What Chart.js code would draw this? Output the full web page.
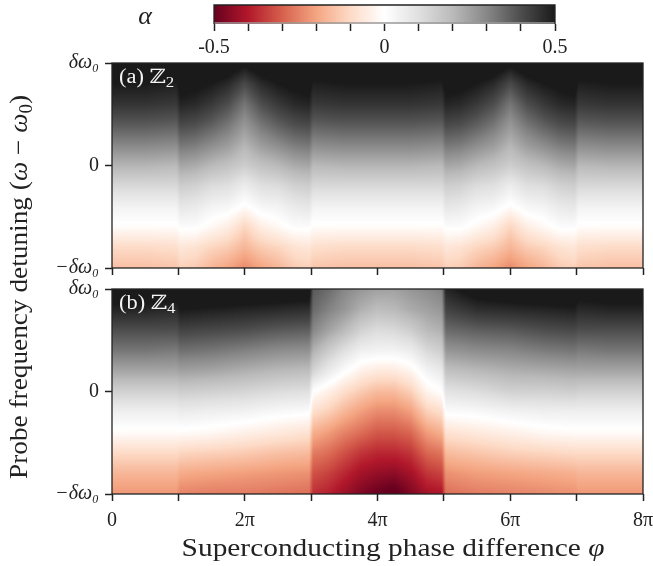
<!DOCTYPE html>
<html>
<head>
<meta charset="utf-8">
<script src="https://cdn.jsdelivr.net/npm/chart.js@4.4.0/dist/chart.umd.min.js"></script>
<style>
html, body { margin: 0; padding: 0; background: #fff; }
#wrap { position: relative; width: 653px; height: 566px; }
#wrap canvas { position: absolute; left: 0; top: 0; }
</style>
</head>
<body>
<div id="wrap">
	<canvas id="cbar" width="653" height="566"></canvas>
	<canvas id="panelA" width="653" height="566"></canvas>
	<canvas id="panelB" width="653" height="566"></canvas>
</div>
<script>
// values: columns are phi (in units of pi), each column lists alpha
// from omega = +dw0 (top) down to -dw0 (bottom)
var omegaRows = [1, 0.8, 0.6, 0.4, 0.2, 0, -0.2, -0.4, -0.6, -0.8, -1];

var phiZ2 = [0, 0.5, 0.97, 1.03, 1.25, 1.5, 1.75, 2, 2.25, 2.5, 2.75, 2.97, 3.03, 3.5, 4,
	4.5, 4.97, 5.03, 5.25, 5.5, 5.75, 6, 6.25, 6.5, 6.75, 6.97, 7.03, 7.5, 8];
var alphaZ2 = [
	[0.58, 0.50, 0.45, 0.38, 0.30, 0.21, 0.12, 0.04, -0.01, -0.10, -0.15],
	[0.58, 0.50, 0.45, 0.38, 0.30, 0.21, 0.12, 0.04, -0.01, -0.10, -0.15],
	[0.57, 0.49, 0.44, 0.37, 0.29, 0.20, 0.12, 0.04, -0.01, -0.09, -0.14],
	[0.62, 0.53, 0.48, 0.41, 0.33, 0.24, 0.15, 0.08, 0.01, -0.07, -0.12],
	[0.61, 0.52, 0.47, 0.40, 0.32, 0.23, 0.14, 0.07, 0.01, -0.08, -0.13],
	[0.58, 0.50, 0.44, 0.37, 0.29, 0.20, 0.11, 0.04, -0.02, -0.11, -0.17],
	[0.56, 0.47, 0.40, 0.33, 0.26, 0.18, 0.10, 0.03, -0.05, -0.13, -0.20],
	[0.52, 0.41, 0.33, 0.27, 0.21, 0.15, 0.06, -0.01, -0.11, -0.17, -0.24],
	[0.56, 0.47, 0.40, 0.33, 0.26, 0.18, 0.10, 0.03, -0.05, -0.13, -0.20],
	[0.58, 0.50, 0.44, 0.37, 0.29, 0.20, 0.11, 0.04, -0.02, -0.11, -0.17],
	[0.61, 0.52, 0.47, 0.40, 0.32, 0.23, 0.14, 0.07, 0.01, -0.08, -0.13],
	[0.62, 0.53, 0.48, 0.41, 0.33, 0.24, 0.15, 0.08, 0.01, -0.07, -0.12],
	[0.57, 0.49, 0.44, 0.37, 0.29, 0.20, 0.12, 0.04, -0.01, -0.09, -0.14],
	[0.58, 0.50, 0.45, 0.38, 0.30, 0.21, 0.12, 0.04, -0.01, -0.10, -0.15],
	[0.58, 0.50, 0.45, 0.38, 0.30, 0.21, 0.12, 0.04, -0.01, -0.10, -0.15],
	[0.58, 0.50, 0.45, 0.38, 0.30, 0.21, 0.12, 0.04, -0.01, -0.10, -0.15],
	[0.57, 0.49, 0.44, 0.37, 0.29, 0.20, 0.12, 0.04, -0.01, -0.09, -0.14],
	[0.62, 0.53, 0.48, 0.41, 0.33, 0.24, 0.15, 0.08, 0.01, -0.07, -0.12],
	[0.61, 0.52, 0.47, 0.40, 0.32, 0.23, 0.14, 0.07, 0.01, -0.08, -0.13],
	[0.58, 0.50, 0.44, 0.37, 0.29, 0.20, 0.11, 0.04, -0.02, -0.11, -0.17],
	[0.56, 0.47, 0.40, 0.33, 0.26, 0.18, 0.10, 0.03, -0.05, -0.13, -0.20],
	[0.52, 0.41, 0.33, 0.27, 0.21, 0.15, 0.06, -0.01, -0.11, -0.17, -0.24],
	[0.56, 0.47, 0.40, 0.33, 0.26, 0.18, 0.10, 0.03, -0.05, -0.13, -0.20],
	[0.58, 0.50, 0.44, 0.37, 0.29, 0.20, 0.11, 0.04, -0.02, -0.11, -0.17],
	[0.61, 0.52, 0.47, 0.40, 0.32, 0.23, 0.14, 0.07, 0.01, -0.08, -0.13],
	[0.62, 0.53, 0.48, 0.41, 0.33, 0.24, 0.15, 0.08, 0.01, -0.07, -0.12],
	[0.57, 0.49, 0.44, 0.37, 0.29, 0.20, 0.12, 0.04, -0.01, -0.09, -0.14],
	[0.58, 0.50, 0.45, 0.38, 0.30, 0.21, 0.12, 0.04, -0.01, -0.10, -0.15],
	[0.58, 0.50, 0.45, 0.38, 0.30, 0.21, 0.12, 0.04, -0.01, -0.10, -0.15]
];

var phiZ4 = [0, 0.5, 0.97, 1.03, 1.5, 2, 2.5, 2.97, 3.03, 3.25, 3.5, 3.75, 4, 4.25, 4.5,
	4.75, 4.97, 5.03, 5.5, 6, 6.5, 6.97, 7.03, 7.5, 8];
var alphaZ4 = [
	[0.55, 0.48, 0.40, 0.33, 0.24, 0.14, 0.05, -0.01, -0.10, -0.17, -0.22],
	[0.55, 0.48, 0.40, 0.33, 0.24, 0.14, 0.05, -0.01, -0.10, -0.17, -0.22],
	[0.54, 0.47, 0.40, 0.32, 0.24, 0.14, 0.05, -0.01, -0.10, -0.17, -0.22],
	[0.58, 0.50, 0.42, 0.34, 0.25, 0.15, 0.06, -0.01, -0.11, -0.19, -0.25],
	[0.58, 0.49, 0.41, 0.33, 0.24, 0.14, 0.05, -0.02, -0.12, -0.20, -0.26],
	[0.57, 0.48, 0.40, 0.31, 0.22, 0.13, 0.04, -0.04, -0.13, -0.21, -0.26],
	[0.56, 0.47, 0.38, 0.29, 0.20, 0.11, 0.02, -0.06, -0.15, -0.22, -0.27],
	[0.55, 0.46, 0.37, 0.28, 0.19, 0.10, 0.01, -0.08, -0.16, -0.23, -0.28],
	[0.38, 0.35, 0.30, 0.22, 0.13, 0.00, -0.09, -0.18, -0.26, -0.32, -0.37],
	[0.35, 0.31, 0.25, 0.16, 0.07, -0.04, -0.12, -0.21, -0.28, -0.34, -0.39],
	[0.30, 0.27, 0.20, 0.10, 0.01, -0.09, -0.17, -0.25, -0.32, -0.38, -0.43],
	[0.27, 0.22, 0.14, 0.05, -0.04, -0.13, -0.21, -0.28, -0.36, -0.42, -0.47],
	[0.25, 0.19, 0.11, 0.04, -0.06, -0.16, -0.24, -0.31, -0.38, -0.44, -0.50],
	[0.25, 0.20, 0.12, 0.04, -0.06, -0.16, -0.24, -0.31, -0.38, -0.45, -0.52],
	[0.27, 0.23, 0.15, 0.06, -0.03, -0.12, -0.21, -0.29, -0.36, -0.42, -0.47],
	[0.29, 0.25, 0.20, 0.12, 0.04, -0.03, -0.12, -0.21, -0.29, -0.36, -0.42],
	[0.31, 0.27, 0.22, 0.15, 0.07, 0.00, -0.09, -0.18, -0.27, -0.34, -0.41],
	[0.48, 0.42, 0.35, 0.27, 0.18, 0.09, 0.01, -0.08, -0.16, -0.23, -0.28],
	[0.54, 0.46, 0.37, 0.29, 0.20, 0.11, 0.02, -0.06, -0.14, -0.21, -0.26],
	[0.56, 0.47, 0.38, 0.30, 0.22, 0.14, 0.04, -0.04, -0.12, -0.20, -0.25],
	[0.57, 0.48, 0.40, 0.32, 0.23, 0.14, 0.05, -0.02, -0.11, -0.19, -0.24],
	[0.58, 0.49, 0.41, 0.33, 0.24, 0.15, 0.05, -0.01, -0.10, -0.18, -0.23],
	[0.54, 0.47, 0.40, 0.32, 0.24, 0.14, 0.05, -0.01, -0.10, -0.17, -0.22],
	[0.55, 0.48, 0.40, 0.33, 0.24, 0.14, 0.05, -0.01, -0.10, -0.17, -0.22],
	[0.55, 0.48, 0.40, 0.33, 0.24, 0.14, 0.05, -0.01, -0.10, -0.17, -0.22]
];

// tick labels
var phiTickLabels = ['0', '', '2π', '', '4π', '', '6π', '', '8π'];
var omegaTickLabels = { '1': 'δω₀', '0': '0', '-1': '−δω₀' };
var alphaTickLabels = { '-0.5': '-0.5', '0': '0', '0.5': '0.5' };
var alphaMin = -0.5, alphaMax = 0.5;

// RdGy colour map (matplotlib)
var rdgy = [[103, 0, 31], [178, 24, 43], [214, 96, 77], [244, 165, 130], [253, 219, 199],
	[255, 255, 255], [224, 224, 224], [186, 186, 186], [135, 135, 135], [77, 77, 77], [26, 26, 26]];

var SERIF = "'Liberation Serif', 'DejaVu Serif', serif";
var INK = '#222222';

function alphaColor(v) {
	var t = (v - alphaMin) / (alphaMax - alphaMin);
	t = Math.max(0, Math.min(1, t)) * (rdgy.length - 1);
	var i = Math.min(rdgy.length - 2, Math.floor(t));
	var f = t - i;
	var a = rdgy[i], b = rdgy[i + 1];
	return [a[0] + (b[0] - a[0]) * f, a[1] + (b[1] - a[1]) * f, a[2] + (b[2] - a[2]) * f];
}

function gridPoints(phis, cols) {
	var pts = [];
	for (var i = 0; i < phis.length; i++) {
		for (var j = 0; j < omegaRows.length; j++) {
			pts.push({ x: phis[i], y: omegaRows[j], v: cols[i][j] });
		}
	}
	return pts;
}

// writes a run of differently styled pieces; sx stretches the run horizontally
function drawRich(ctx, parts, x, y, align, sx) {
	sx = sx || 1;
	var total = 0;
	parts.forEach(function(p) {
		ctx.font = p.font;
		p.w = ctx.measureText(p.text).width;
		total += p.w;
	});
	ctx.save();
	ctx.translate(x, y);
	ctx.scale(sx, 1);
	var cx = align === 'center' ? -total / 2 : 0;
	parts.forEach(function(p) {
		ctx.font = p.font;
		ctx.fillText(p.text, cx, p.dy || 0);
		cx += p.w;
	});
	ctx.restore();
}

// paints the alpha map in the chart area, pixel by pixel, through the chart's scales
function makeHeatmap(phis, cols) {
	return {
		id: 'heatmap',
		beforeDatasetsDraw: function(chart) {
			var a = chart.chartArea, xs = chart.scales.x, ys = chart.scales.y;
			var x0 = Math.round(a.left), y0 = Math.round(a.top);
			var w = Math.round(a.right) - x0, h = Math.round(a.bottom) - y0;
			var nr = omegaRows.length;
			var colI = [], colF = [];
			for (var px = 0; px < w; px++) {
				var phi = xs.getValueForPixel(x0 + px + 0.5);
				var i = 0;
				while (i < phis.length - 2 && phi > phis[i + 1]) i++;
				colI.push(i);
				colF.push(Math.max(0, Math.min(1, (phi - phis[i]) / (phis[i + 1] - phis[i]))));
			}
			var off = document.createElement('canvas');
			off.width = w; off.height = h;
			var octx = off.getContext('2d');
			var img = octx.createImageData(w, h);
			for (var py = 0; py < h; py++) {
				var om = ys.getValueForPixel(y0 + py + 0.5);
				var r = (omegaRows[0] - om) / (omegaRows[0] - omegaRows[nr - 1]) * (nr - 1);
				r = Math.max(0, Math.min(nr - 1, r));
				var j = Math.min(nr - 2, Math.floor(r)), fy = r - j;
				for (var qx = 0; qx < w; qx++) {
					var ci = colI[qx], fx = colF[qx];
					var va = cols[ci][j] * (1 - fy) + cols[ci][j + 1] * fy;
					var vb = cols[ci + 1][j] * (1 - fy) + cols[ci + 1][j + 1] * fy;
					var c = alphaColor(va * (1 - fx) + vb * fx);
					var k = (py * w + qx) * 4;
					img.data[k] = c[0]; img.data[k + 1] = c[1]; img.data[k + 2] = c[2]; img.data[k + 3] = 255;
				}
			}
			octx.putImageData(img, 0, 0);
			chart.ctx.drawImage(off, x0, y0);
		}
	};
}

function panelFrame(tag, sub) {
	return {
		id: 'panelFrame',
		afterDraw: function(chart) {
			var a = chart.chartArea, ctx = chart.ctx;
			ctx.save();
			ctx.strokeStyle = INK;
			ctx.lineWidth = 1.3;
			ctx.strokeRect(a.left, a.top, a.right - a.left, a.bottom - a.top);
			ctx.fillStyle = '#f4f4f4';
			ctx.textBaseline = 'alphabetic';
			drawRich(ctx, [
				{ text: tag + ' ', font: '20px ' + SERIF },
				{ text: 'ℤ', font: '20px ' + SERIF },
				{ text: sub, font: '15px ' + SERIF, dy: 4 }
			], a.left + 7, a.top + 20, 'left', 1.12);
			ctx.restore();
		}
	};
}

var axisTitles = {
	id: 'axisTitles',
	afterDraw: function(chart) {
		var ctx = chart.ctx;
		ctx.save();
		ctx.fillStyle = INK;
		ctx.textBaseline = 'alphabetic';
		drawRich(ctx, [
			{ text: 'Superconducting phase difference ', font: '26px ' + SERIF },
			{ text: 'φ', font: 'italic 26px ' + SERIF }
		], 393, 556, 'center', 1.13);
		ctx.translate(27, 287);
		ctx.rotate(-Math.PI / 2);
		drawRich(ctx, [
			{ text: 'Probe frequency detuning (', font: '26px ' + SERIF },
			{ text: 'ω', font: 'italic 26px ' + SERIF },
			{ text: ' − ', font: '26px ' + SERIF },
			{ text: 'ω', font: 'italic 26px ' + SERIF },
			{ text: '0', font: '18px ' + SERIF, dy: 5 },
			{ text: ')', font: '26px ' + SERIF }
		], 0, 0, 'center', 1.05);
		ctx.restore();
	}
};

function panelOptions(top, axisHeight, showLabels) {
	return {
		responsive: false,
		animation: false,
		devicePixelRatio: 1,
		layout: { autoPadding: false, padding: { top: top, right: 10, left: 0, bottom: 0 } },
		plugins: { legend: { display: false }, tooltip: { enabled: false } },
		elements: { point: { radius: 0, hoverRadius: 0 } },
		scales: {
			x: {
				type: 'linear', min: 0, max: 8,
				afterFit: function(s) { s.height = axisHeight; s.paddingLeft = 0; s.paddingRight = 0; },
				border: { display: false },
				grid: { drawOnChartArea: false, drawTicks: true, tickLength: 7, tickColor: INK, tickWidth: 1.5 },
				ticks: {
					display: showLabels, stepSize: 1, padding: 8, color: INK, maxRotation: 0,
					font: { family: SERIF, size: 20 },
					callback: function(v) { return phiTickLabels[Math.round(v)]; }
				}
			},
			y: {
				type: 'linear', min: -1, max: 1,
				afterFit: function(s) { s.width = 112; s.paddingTop = 0; s.paddingBottom = 0; },
				border: { display: false },
				grid: { drawOnChartArea: false, drawTicks: true, tickLength: 7, tickColor: INK, tickWidth: 1.5 },
				ticks: {
					stepSize: 1, padding: 6, color: INK,
					font: function(c) {
						var v = c.tick ? c.tick.value : 0;
						return { family: SERIF, size: 20, style: v === 0 ? 'normal' : 'italic' };
					},
					callback: function(v) { return omegaTickLabels[String(v)]; }
				}
			}
		}
	};
}

// colour bar
var colorbarFill = {
	id: 'colorbarFill',
	beforeDatasetsDraw: function(chart) {
		var a = chart.chartArea, xs = chart.scales.x, ctx = chart.ctx;
		ctx.save();
		for (var px = Math.round(a.left); px < Math.round(a.right); px++) {
			var c = alphaColor(xs.getValueForPixel(px + 0.5));
			ctx.fillStyle = 'rgb(' + Math.round(c[0]) + ',' + Math.round(c[1]) + ',' + Math.round(c[2]) + ')';
			ctx.fillRect(px, a.top, 1, a.bottom - a.top);
		}
		ctx.strokeStyle = '#9a9a9a';
		ctx.lineWidth = 1.5;
		ctx.beginPath();
		ctx.moveTo(a.left, a.bottom - 1);
		ctx.lineTo(a.right, a.bottom - 1);
		ctx.stroke();
		ctx.strokeStyle = INK;
		ctx.lineWidth = 1.3;
		ctx.beginPath();
		ctx.moveTo(a.left, a.bottom);
		ctx.lineTo(a.left, a.top);
		ctx.lineTo(a.right, a.top);
		ctx.lineTo(a.right, a.bottom);
		ctx.stroke();
		ctx.fillStyle = INK;
		ctx.textAlign = 'center';
		ctx.textBaseline = 'middle';
		ctx.font = 'italic 26px ' + SERIF;
		ctx.fillText('α', 145, 17);
		ctx.restore();
	}
};

new Chart(document.getElementById('cbar'), {
	type: 'scatter',
	data: { datasets: [{ data: [] }] },
	options: {
		responsive: false,
		animation: false,
		devicePixelRatio: 1,
		layout: { autoPadding: false, padding: { top: 5, left: 214, right: 98, bottom: 0 } },
		plugins: { legend: { display: false }, tooltip: { enabled: false } },
		scales: {
			x: {
				type: 'linear', min: alphaMin, max: alphaMax,
				afterFit: function(s) { s.height = 566 - 24; s.paddingLeft = 0; s.paddingRight = 0; },
				border: { display: false },
				grid: { drawOnChartArea: false, drawTicks: true, tickLength: 7, tickColor: INK, tickWidth: 1.5 },
				ticks: {
					stepSize: 0.1, padding: 5, color: INK, maxRotation: 0, autoSkip: false,
					font: { family: SERIF, size: 20 },
					callback: function(v) {
						var key = String(Math.round(v * 10) / 10);
						return alphaTickLabels[key] || '';
					}
				}
			},
			y: { display: false, min: 0, max: 1 }
		}
	},
	plugins: [colorbarFill]
});

new Chart(document.getElementById('panelA'), {
	type: 'scatter',
	data: { datasets: [{ data: gridPoints(phiZ2, alphaZ2) }] },
	options: panelOptions(63, 566 - 268, false),
	plugins: [makeHeatmap(phiZ2, alphaZ2), panelFrame('(a)', '2')]
});

new Chart(document.getElementById('panelB'), {
	type: 'scatter',
	data: { datasets: [{ data: gridPoints(phiZ4, alphaZ4) }] },
	options: panelOptions(289, 566 - 494, true),
	plugins: [makeHeatmap(phiZ4, alphaZ4), panelFrame('(b)', '4'), axisTitles]
});
</script>
</body>
</html>
